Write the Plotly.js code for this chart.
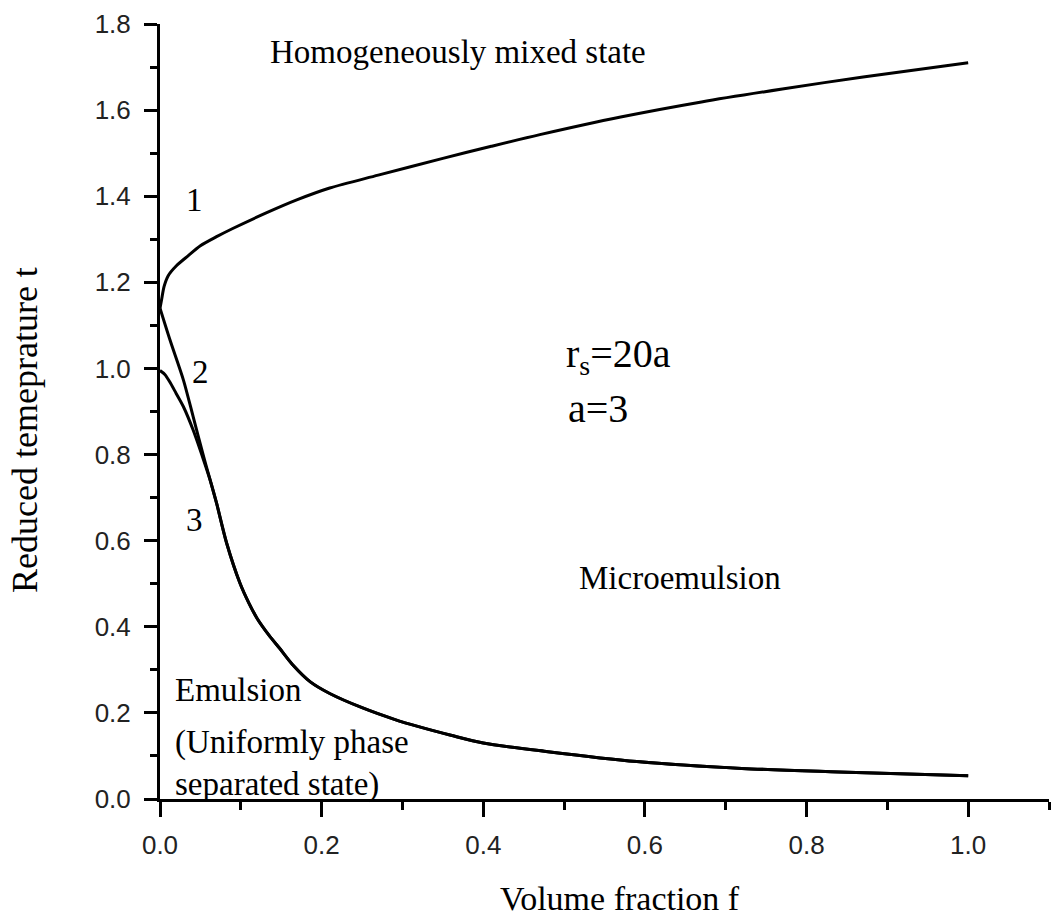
<!DOCTYPE html>
<html>
<head>
<meta charset="utf-8">
<script src="https://cdn.plot.ly/plotly-3.0.1.min.js"></script>
<style>html,body{margin:0;padding:0;background:#fff;}#chart{width:1054px;height:920px;}</style>
</head>
<body>
<div id="chart"></div>
<script>
// Curve 1 (upper branch)
var curve1X = [0, 0.002, 0.005, 0.01, 0.02, 0.035, 0.05, 0.07, 0.09, 0.13, 0.17, 0.21, 0.27, 0.35, 0.41, 0.47, 0.57, 0.67, 0.77, 0.87, 1.0];
var curve1T = [1.14, 1.16, 1.19, 1.215, 1.238, 1.262, 1.285, 1.306, 1.325, 1.36, 1.392, 1.419, 1.449, 1.488, 1.516, 1.543, 1.584, 1.619, 1.649, 1.677, 1.71];
// Curve 2 (starts at the cusp)
var curve2X = [0, 0.0124, 0.029, 0.041, 0.054];
var curve2T = [1.14, 1.066, 0.973, 0.888, 0.795];
// Curve 3 (starts at t = 1)
var curve3X = [0, 0.006, 0.012, 0.02, 0.029, 0.041, 0.054];
var curve3T = [0.995, 0.986, 0.969, 0.942, 0.911, 0.857, 0.787];
// Common tail of curves 2 and 3
var tailX = [0.062, 0.07, 0.0825, 0.099, 0.11, 0.12, 0.135, 0.148, 0.165, 0.186, 0.21, 0.25, 0.29, 0.32, 0.36, 0.40, 0.48, 0.59, 0.72, 0.84, 1.0];
var tailT = [0.741, 0.687, 0.594, 0.501, 0.455, 0.42, 0.38, 0.35, 0.31, 0.272, 0.245, 0.212, 0.185, 0.168, 0.148, 0.130, 0.110, 0.087, 0.071, 0.063, 0.054];

var labels = {
  top: 'Homogeneously mixed state',
  c1: '1', c2: '2', c3: '3',
  rs: 'r<sub>s</sub>=20a', a: 'a=3',
  micro: 'Microemulsion',
  em1: 'Emulsion', em2: '(Uniformly phase', em3: 'separated state)',
  xTitle: 'Volume fraction f', yTitle: 'Reduced temeprature t'
};

var lineStyle = {color: '#000', width: 3, shape: 'spline', smoothing: 0.8};
var traces = [
  {x: curve1X, y: curve1T, mode: 'lines', line: lineStyle, hoverinfo: 'skip'},
  {x: curve2X.concat(tailX), y: curve2T.concat(tailT), mode: 'lines', line: lineStyle, hoverinfo: 'skip'},
  {x: curve3X.concat(tailX), y: curve3T.concat(tailT), mode: 'lines', line: lineStyle, hoverinfo: 'skip'}
];

var serif = 'Liberation Serif, Times New Roman, serif';
function ann(text, x, y, size, xanchor) {
  return {text: text, x: x, y: y, xref: 'x', yref: 'y', showarrow: false,
    xanchor: xanchor || 'center', yanchor: 'middle',
    font: {family: serif, size: size, color: '#000'}};
}

var annotations = [
  ann(labels.top, 0.369, 1.735, 33),
  ann(labels.c1, 0.043, 1.391, 33),
  ann(labels.c2, 0.0495, 0.992, 33),
  ann(labels.c3, 0.043, 0.648, 33),
  ann(labels.rs, 0.50, 1.03, 40, 'left'),
  ann(labels.a, 0.502, 0.908, 40, 'left'),
  ann(labels.micro, 0.6436, 0.513, 33),
  ann(labels.em1, 0.016, 0.253, 33, 'left'),
  ann(labels.em2, 0.016, 0.132, 33, 'left'),
  ann(labels.em3, 0.016, 0.033, 33, 'left'),
  {text: labels.xTitle, x: 0.569, y: -0.128, xref: 'x', yref: 'paper', showarrow: false,
   xanchor: 'center', yanchor: 'middle', font: {family: serif, size: 34, color: '#000'}},
  {text: labels.yTitle, x: -0.152, y: 0.476, xref: 'paper', yref: 'paper', showarrow: false,
   textangle: -90, xanchor: 'center', yanchor: 'middle', font: {family: serif, size: 36, color: '#000'}}
];

var tickFont = {family: 'Liberation Sans, Arial, sans-serif', size: 26, color: '#222'};
var layout = {
  width: 1054, height: 920,
  margin: {l: 160, r: 5, t: 24, b: 121},
  paper_bgcolor: '#fff', plot_bgcolor: '#fff',
  showlegend: false,
  xaxis: {
    range: [0, 1.1], dtick: 0.2, tick0: 0, tickformat: '.1f',
    showgrid: false, zeroline: false, showline: true, linecolor: '#000', linewidth: 3,
    ticks: 'outside', ticklen: 15, tickwidth: 3, tickcolor: '#000',
    minor: {dtick: 0.1, tick0: 0, ticks: 'outside', ticklen: 8, tickwidth: 3, tickcolor: '#000', showgrid: false},
    tickfont: tickFont, ticklabelstandoff: 6, fixedrange: true
  },
  yaxis: {
    range: [0, 1.8], dtick: 0.2, tick0: 0, tickformat: '.1f',
    showgrid: false, zeroline: false, showline: true, linecolor: '#000', linewidth: 3,
    ticks: 'outside', ticklen: 13, tickwidth: 3, tickcolor: '#000',
    minor: {dtick: 0.1, tick0: 0, ticks: 'outside', ticklen: 7, tickwidth: 3, tickcolor: '#000', showgrid: false},
    tickfont: tickFont, ticklabelstandoff: 8, fixedrange: true
  },
  annotations: annotations
};

Plotly.newPlot('chart', traces, layout, {displayModeBar: false, staticPlot: true});
</script>
</body>
</html>
